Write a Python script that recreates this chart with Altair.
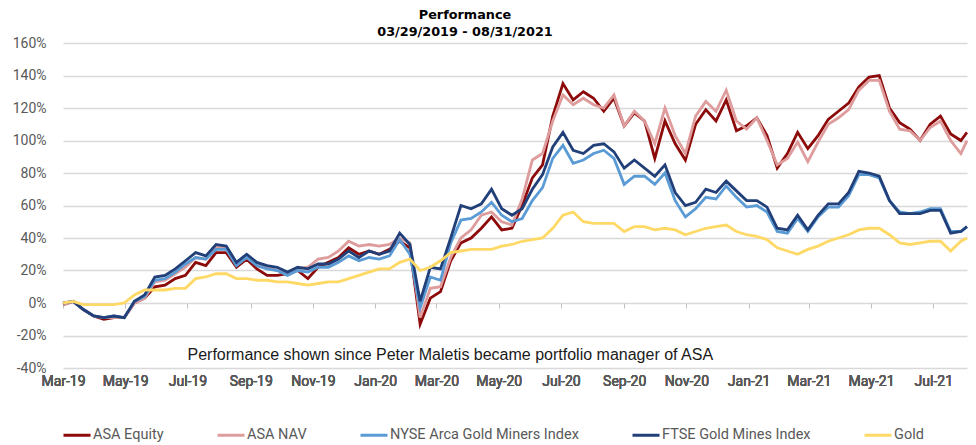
import altair as alt
import pandas as pd

# ---- categories / dates (sampled every 10 days, plus the final day) ----
dates = [d.strftime("%Y-%m-%d") for d in pd.date_range("2019-03-29", periods=89, freq="10D")] + ["2021-08-31"]

series_names = ["ASA Equity", "ASA NAV", "NYSE Arca Gold Miners Index", "FTSE Gold Mines Index", "Gold"]
series_colors = ["#8C0A0A", "#DE9C9C", "#5B9BD5", "#213F78", "#FFD966"]

# ---- series values, cumulative performance in % ----
asa_equity = [
    -1, 1, -4, -8, -10, -9, -9, 0, 3, 10,
    11, 15, 17, 25, 23, 31, 31, 22, 27, 21,
    17, 17, 18, 20, 15, 22, 25, 28, 34, 30,
    32, 30, 33, 38, 34, -13, 3, 7, 26, 37,
    40, 46, 53, 45, 46, 60, 77, 85, 115, 135,
    125, 130, 126, 118, 126, 109, 117, 112, 89, 112,
    98, 88, 110, 119, 112, 125, 106, 109, 114, 103,
    83, 92, 105, 95, 103, 113, 118, 123, 133, 139,
    140, 120, 111, 107, 100, 110, 115, 104, 100, 105,
]
asa_nav = [
    -1, 1, -4, -8, -9, -9, -9, 0, 3, 13,
    14, 18, 22, 28, 27, 34, 34, 24, 28, 24,
    22, 20, 18, 21, 22, 27, 28, 32, 38, 35,
    36, 35, 36, 40, 37, -9, 9, 10, 28, 40,
    45, 54, 56, 50, 48, 64, 88, 92, 112, 128,
    122, 126, 122, 120, 128, 109, 118, 112, 98, 120,
    103, 92, 115, 124, 118, 131, 112, 107, 114, 100,
    85, 89, 99, 87, 99, 110, 114, 119, 131, 137,
    137, 118, 107, 106, 100, 108, 112, 100, 92, 100,
]
nyse_gold_miners = [
    0, 1, -4, -8, -9, -8, -9, 1, 4, 14,
    15, 19, 24, 28, 27, 33, 33, 23, 28, 23,
    21, 20, 17, 20, 19, 22, 22, 25, 29, 26,
    28, 27, 29, 39, 30, -3, 16, 14, 37, 51,
    52, 56, 62, 54, 50, 52, 63, 71, 89, 97,
    86, 88, 92, 94, 89, 73, 78, 78, 73, 80,
    63, 53, 58, 65, 64, 72, 65, 59, 60, 56,
    44, 43, 52, 44, 53, 59, 59, 66, 79, 79,
    77, 63, 56, 55, 56, 58, 58, 44, 44, 47,
]
ftse_gold_mines = [
    0, 1, -4, -8, -9, -8, -9, 1, 5, 16,
    17, 21, 26, 31, 29, 36, 35, 25, 30, 25,
    23, 22, 19, 22, 21, 24, 24, 27, 32, 28,
    32, 30, 32, 43, 36, 1, 22, 21, 40, 60,
    58, 61, 70, 58, 54, 58, 70, 79, 96, 105,
    94, 92, 97, 98, 93, 83, 88, 83, 78, 85,
    68, 60, 62, 70, 68, 75, 69, 63, 63, 59,
    46, 45, 54, 45, 54, 61, 61, 68, 81, 80,
    78, 63, 55, 55, 55, 57, 57, 43, 44, 47,
]
gold = [
    0, 1, -1, -1, -1, -1, 0, 5, 8, 8,
    8, 9, 9, 15, 16, 18, 18, 15, 15, 14,
    14, 13, 13, 12, 11, 12, 13, 13, 15, 17,
    19, 21, 21, 25, 27, 20, 22, 26, 31, 32,
    33, 33, 33, 35, 36, 38, 39, 40, 46, 54,
    56, 50, 49, 49, 49, 44, 47, 47, 45, 46,
    45, 42, 44, 46, 47, 48, 44, 42, 41, 39,
    34, 32, 30, 33, 35, 38, 40, 42, 45, 46,
    46, 42, 37, 36, 37, 38, 38, 32, 38, 40,
]

# ---- axis tick labels ----
tick_dates = ["2019-03-29", "2019-05-29", "2019-07-29", "2019-09-29", "2019-11-29",
              "2020-01-29", "2020-03-29", "2020-05-29", "2020-07-29", "2020-09-29",
              "2020-11-29", "2021-01-29", "2021-03-29", "2021-05-29", "2021-07-29"]
y_ticks = [-0.4, -0.2, 0, 0.2, 0.4, 0.6, 0.8, 1.0, 1.2, 1.4, 1.6]

title_lines = ["Performance", "03/29/2019 - 08/31/2021"]
note_text = ["Performance shown since Peter Maletis became portfolio manager of ASA"]
note_date = ["2019-07-29"]
note_value = [-0.32]

# ---- build tables ----
rows = []
for name, vals in zip(series_names, [asa_equity, asa_nav, nyse_gold_miners, ftse_gold_mines, gold]):
    for d, v in zip(dates, vals):
        rows.append({"date": d, "series": name, "value": v / 100.0})
df = pd.DataFrame(rows)
note_df = pd.DataFrame({"date": note_date, "value": note_value, "text": note_text})


def ms(s):
    return int(pd.Timestamp(s, tz="UTC").value // 10**6)


tick_ms = [ms(s) for s in tick_dates]
x_domain = [ms(dates[0]), ms(dates[-1])]
LABEL_FONT = "Roboto"
LABEL_COLOR = "#595959"

x_scale = alt.Scale(type="utc", domain=x_domain)
y_scale = alt.Scale(domain=[-0.4, 1.6], nice=False, zero=False)

x_main = alt.X(
    "date:T", scale=x_scale,
    axis=alt.Axis(values=tick_ms, labelExpr="utcFormat(datum.value, '%b-%y')",
                  ticks=False, domain=False, grid=False, labelPadding=6, labelFlush=False,
                  labelFont=LABEL_FONT, labelFontSize=14, labelColor=LABEL_COLOR,
                  labelFontWeight="normal", labelOverlap=False, title=None, orient="bottom"),
)
y_main = alt.Y(
    "value:Q", scale=y_scale,
    axis=alt.Axis(values=y_ticks,
                  labelExpr="(datum.value < -0.0001 ? '-' : '') + format(abs(datum.value), '.0%')",
                  grid=True, gridColor="#D9D9D9", gridWidth=1.5, ticks=False, domain=False,
                  labelPadding=17, labelFont=LABEL_FONT, labelFontSize=14, labelFlush=False,
                  labelFontWeight="normal", labelColor=LABEL_COLOR, title=None),
)
color_enc = alt.Color(
    "series:N",
    scale=alt.Scale(domain=series_names, range=series_colors),
    sort=series_names,
    legend=alt.Legend(orient="none", legendX=-1, legendY=377, direction="horizontal",
                      title=None, symbolType="stroke", symbolStrokeWidth=3, symbolSize=729,
                      labelFont=LABEL_FONT, labelFontSize=14.5, labelColor=LABEL_COLOR,
                      labelLimit=400, columnPadding=47, labelOffset=1),
)

layers = []
for name in series_names:
    layers.append(
        alt.Chart(df)
        .transform_filter(alt.datum.series == name)
        .mark_line(strokeWidth=2.8, interpolate="linear")
        .encode(x=x_main, y=y_main, color=color_enc)
    )

# Excel-style tick marks on the 0% line
x_ticks_axis = alt.X(
    "date:T", scale=x_scale,
    axis=alt.Axis(values=tick_ms, labels=False, ticks=True, tickSize=5, tickColor="#BFBFBF",
                  tickWidth=1, domain=False, grid=False, offset=-65, orient="bottom", title=None),
)
note = (
    alt.Chart(note_df)
    .mark_text(align="left", baseline="middle", font="Liberation Sans", fontSize=16, color="#1A1A1A")
    .encode(x=x_ticks_axis, y=y_main, text="text:N")
)

chart = (
    alt.layer(*layers, note)
    .resolve_scale(x="independent")
    .properties(
        width=904, height=325,
        padding={"left": 55, "top": 35, "right": 1, "bottom": 77},
        autosize=alt.AutoSizeParams(type="none"),
        title=alt.TitleParams(text=title_lines, font="DejaVu Sans", fontSize=12.8, fontWeight="bold",
                              color="#000000", lineHeight=17, anchor="middle", dx=-50, offset=-3),
    )
    .configure_view(stroke=None)
)

chart.save("out.html", embed_options={"renderer": "svg", "actions": False})
